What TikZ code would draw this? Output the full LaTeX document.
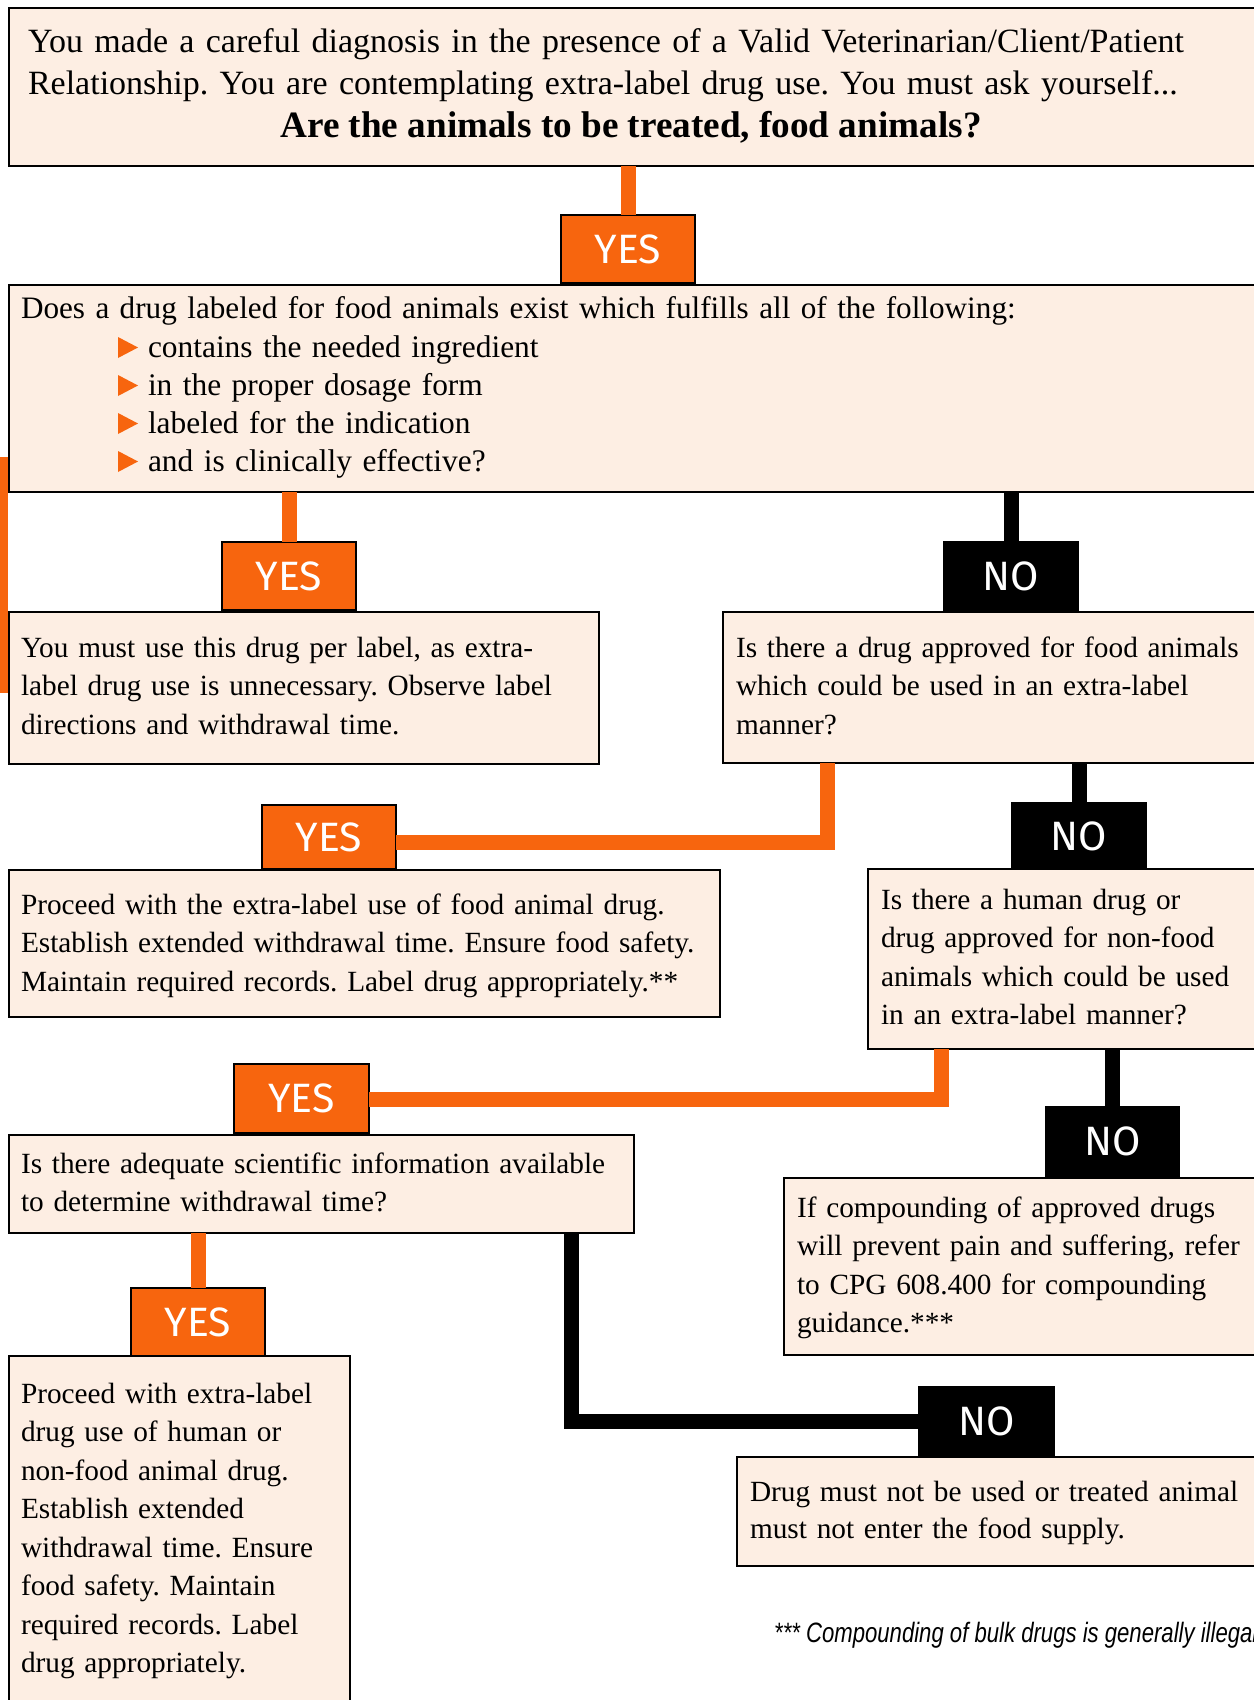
\documentclass[tikz,border=0pt]{standalone}
\usepackage{fontspec}
\setmainfont{Liberation Serif}
\newfontfamily\labfont{Fira Sans}
\newfontfamily\notefont{Liberation Sans}[FakeStretch=0.79]
\definecolor{peach}{HTML}{FDEEE3}
\definecolor{orng}{HTML}{F7650E}
\tikzset{
  box/.style={draw=black, line width=2.5pt, fill=peach, anchor=north west, inner sep=0pt, outer sep=0pt},
  yesbox/.style={draw=black, line width=2pt, fill=orng, anchor=north west, inner sep=0pt, outer sep=0pt, text=white, font=\labfont\fontsize{41}{41}\selectfont},
  nobox/.style={yesbox, fill=black},
  txt/.style={anchor=base west, inner sep=0pt, outer sep=0pt, align=left, text width=2000pt, font=\fontsize{29.3}{38.5}\selectfont},
  oline/.style={draw=orng, line width=15pt, line join=miter},
  bline/.style={draw=black, line width=15pt, line join=miter},
}
\begin{document}
\frenchspacing
\begin{tikzpicture}[x=1pt,y=-1pt]
\useasboundingbox (0,0) rectangle (1253,1700);
\fill[white] (0,0) rectangle (1253,1700);

% boxes
\node[box, minimum width=1260pt, minimum height=158pt] (top) at (9,8) {};
\node[box, minimum width=1260pt, minimum height=207pt] (q1) at (9,285) {};
\node[box, minimum width=590pt, minimum height=152pt] (r1) at (9,612) {};
\node[box, minimum width=560pt, minimum height=151pt] (q2) at (723,612) {};
\node[box, minimum width=711pt, minimum height=147pt] (r2) at (9,870) {};
\node[box, minimum width=420pt, minimum height=180pt] (q3) at (868,869) {};
\node[box, minimum width=625pt, minimum height=98pt] (q4) at (9,1135) {};
\node[box, minimum width=500pt, minimum height=177pt] (r3) at (784,1178) {};
\node[box, minimum width=341pt, minimum height=380pt] (r4) at (9,1356) {};
\node[box, minimum width=540pt, minimum height=109pt] (r5) at (737,1457) {};

% labels
\node[yesbox, minimum width=134pt, minimum height=68pt] (y1) at (561,215) {YES};
\node[yesbox, minimum width=134pt, minimum height=68pt] (y2) at (222,542) {YES};
\node[nobox, minimum width=134pt, minimum height=68pt] (n1) at (944,542) {NO};
\node[yesbox, minimum width=134pt, minimum height=64pt] (y3) at (262,805) {YES};
\node[nobox, minimum width=134pt, minimum height=66pt] (n2) at (1012,803) {NO};
\node[yesbox, minimum width=135pt, minimum height=69pt] (y4) at (234,1064) {YES};
\node[nobox, minimum width=133pt, minimum height=69pt] (n3) at (1046,1107) {NO};
\node[yesbox, minimum width=134pt, minimum height=68pt] (y5) at (131,1288) {YES};
\node[nobox, minimum width=135pt, minimum height=69pt] (n4) at (919,1387) {NO};

% connectors
\coordinate (c1) at (827,842);
\coordinate (c2) at (941,1099);
\coordinate (c3) at (571,1421);
\coordinate (l1) at (0,457);
\coordinate (l2) at (0,693);
\draw[oline] (top.south -| y1.north) -- (y1.north);
\draw[oline] (q1.south -| y2.north) -- (y2.north);
\draw[bline] (q1.south -| n1.north) -- (n1.north);
\draw[oline] (q2.south -| c1) -- (c1) -- (c1 -| y3.east);
\draw[bline] (q2.south -| n2.north) -- (n2.north);
\draw[oline] (q3.south -| c2) -- (c2) -- (c2 -| y4.east);
\draw[bline] (q3.south -| n3.north) -- (n3.north);
\draw[oline] (q4.south -| y5.north) -- (y5.north);
\draw[bline] (q4.south -| c3) -- (c3) -- (c3 -| n4.west);
\draw[oline] (l1) -- (l2);

% texts
\node[txt, font=\fontsize{34}{42}\selectfont] (t0) at (28,52) {You made a careful diagnosis in the presence of a Valid Veterinarian/Client/Patient\\Relationship. You are contemplating extra-label drug use. You must ask yourself...};
\node[anchor=base, inner sep=0pt, font=\bfseries\fontsize{37.2}{41.5}\selectfont] (t0b) at (631,137) {Are the animals to be treated, food animals?};
\node[txt, font=\fontsize{31.2}{38.5}\selectfont] (t1) at (21,318) {Does a drug labeled for food animals exist which fulfills all of the following:};
\node[txt, font=\fontsize{31.4}{38}\selectfont] (t1b) at (148,357) {contains the needed ingredient\\in the proper dosage form\\labeled for the indication\\and is clinically effective?};
\foreach \b in {357,395,433,471}
  \fill[orng] (118,{\b-20}) -- (138,{\b-9.5}) -- (118,{\b+1}) -- cycle;
\node[txt] (t2) at (21,657) {You must use this drug per label, as extra-\\label drug use is unnecessary. Observe label\\directions and withdrawal time.};
\node[txt] (t3) at (736,657) {Is there a drug approved for food animals\\which could be used in an extra-label\\manner?};
\node[txt] (t4) at (21,914) {Proceed with the extra-label use of food animal drug.\\Establish extended withdrawal time. Ensure food safety.\\Maintain required records. Label drug appropriately.**};
\node[txt] (t5) at (881,909) {Is there a human drug or\\drug approved for non-food\\animals which could be used\\in an extra-label manner?};
\node[txt, font=\fontsize{29.3}{38}\selectfont] (t6) at (21,1173) {Is there adequate scientific information available\\to determine withdrawal time?};
\node[txt] (t7) at (797,1217) {If compounding of approved drugs\\will prevent pain and suffering, refer\\to CPG 608.400 for compounding\\guidance.***};
\node[txt] (t8) at (21,1403) {Proceed with extra-label\\drug use of human or\\non-food animal drug.\\Establish extended\\withdrawal time. Ensure\\food safety. Maintain\\required records. Label\\drug appropriately.};
\node[txt, font=\fontsize{29.3}{37.5}\selectfont] (t9) at (750,1501) {Drug must not be used or treated animal\\must not enter the food supply.};
\node[anchor=base west, inner sep=0pt, font=\notefont\itshape\fontsize{28}{30}\selectfont] (fn) at (774,1642) {*** Compounding of bulk drugs is generally illegal};
\end{tikzpicture}
\end{document}
